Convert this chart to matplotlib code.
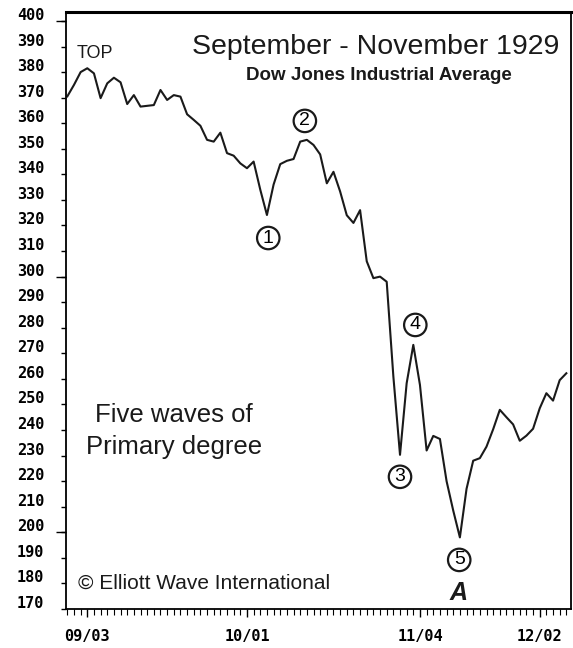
import numpy as np
import matplotlib
matplotlib.use('Agg')
import matplotlib.pyplot as plt
from matplotlib.ticker import FixedLocator, MultipleLocator
from matplotlib.transforms import ScaledTranslation

# DJIA daily closes, Sept - Nov 1929 (one per trading day)
dow_close = [370.5, 375.0, 380.0, 381.5, 379.5, 369.8, 375.6, 377.8, 376.0, 367.5,
             371.0, 366.5, 366.8, 367.1, 373.0, 369.1, 371.0, 370.4, 363.5, 361.3,
             359.0, 353.5, 352.8, 356.3, 348.3, 347.3, 344.3, 342.4, 345.0, 334.0,
             324.1, 336.0, 344.0, 345.3, 346.0, 352.8, 353.5, 351.5, 347.8, 336.5,
             341.0, 333.3, 324.0, 321.0, 326.0, 306.0, 299.4, 300.0, 298.0, 261.0,
             230.3, 258.3, 273.3, 257.6, 232.0, 237.7, 236.5, 220.0, 208.5, 198.0,
             217.0, 228.0, 229.0, 233.5, 240.3, 247.9, 245.0, 242.2, 235.8, 237.8,
             240.5, 248.5, 254.4, 251.5, 259.5, 262.2]
date_idx = [3, 27, 53, 71]
date_labels = ['09/03', '10/01', '11/04', '12/02']
y_ticks = list(range(170, 401, 10))

# wave labels: (text, x index, value)
waves = [('1', 30.2, 315.1), ('2', 35.7, 360.9), ('3', 50.0, 221.7),
         ('4', 52.3, 281.1), ('5', 58.9, 189.2)]

W, H = 573, 648
fig = plt.figure(figsize=(W / 100, H / 100), dpi=100)
ax = fig.add_axes([66 / W, 1 - 609 / H, (571 - 66) / W, (609 - 12) / H])

x = np.arange(len(dow_close))
ax.plot(x, dow_close, color='#1a1a1a', lw=1.5)

ax.set_xlim(-0.2, 75.7)
ax.set_ylim(170, 403.5)

for s in ax.spines.values():
    s.set_linewidth(1.3)
ax.spines['top'].set_linewidth(2.2)

# y axis
ax.yaxis.set_major_locator(FixedLocator(y_ticks))
ax.set_yticklabels([str(v) for v in y_ticks])
ax.yaxis.set_minor_locator(FixedLocator([200, 300, 400]))
ax.yaxis.remove_overlapping_locs = False
ax.tick_params(axis='y', which='major', direction='out', length=3.5, width=1.0, pad=12)
ax.tick_params(axis='y', which='minor', direction='out', length=7, width=1.0)

# x axis
ax.xaxis.set_major_locator(FixedLocator(date_idx))
ax.set_xticklabels(date_labels)
ax.xaxis.set_minor_locator(MultipleLocator(1))
ax.tick_params(axis='x', which='major', direction='out', length=5.5, width=1.0, pad=9)
ax.tick_params(axis='x', which='minor', direction='out', length=4, width=0.8)

for lab in ax.get_yticklabels() + ax.get_xticklabels():
    lab.set_fontfamily('DejaVu Sans Mono')
    lab.set_fontweight('bold')
    lab.set_fontsize(11)
for lab in ax.get_yticklabels():
    lab.set_transform(lab.get_transform() + ScaledTranslation(0, 0.07, fig.dpi_scale_trans))

sans = 'Liberation Sans'
fig.text(376 / W, 1 - 47 / H, 'September - November 1929', ha='center', va='center',
         fontsize=20.5, family=sans, color='#1a1a1a')
fig.text(379 / W, 1 - 75 / H, 'Dow Jones Industrial Average', ha='center', va='center',
         fontsize=13.5, family=sans, fontweight='bold', color='#1a1a1a')
fig.text(77 / W, 1 - 53 / H, 'TOP', ha='left', va='center', fontsize=13,
         family=sans, color='#1a1a1a')
fig.text(174 / W, 1 - 431 / H, 'Five waves of\nPrimary degree', ha='center', va='center',
         fontsize=18.5, family=sans, linespacing=1.4, color='#1a1a1a')
fig.text(78 / W, 1 - 583 / H, '\u00a9 Elliott Wave International', ha='left', va='center',
         fontsize=15, family=sans, color='#1a1a1a')

for txt, xi, yv in waves:
    ax.text(xi, yv, txt, ha='center', va='center', fontsize=14, family=sans,
            bbox=dict(boxstyle='circle,pad=0.14', fc='white', ec='#1a1a1a', lw=1.6))
ax.text(58.75, 176.3, 'A', ha='center', va='center', fontsize=18, family=sans,
        fontweight='bold', fontstyle='italic', color='#1a1a1a')

fig.savefig('out.png', dpi=100)
